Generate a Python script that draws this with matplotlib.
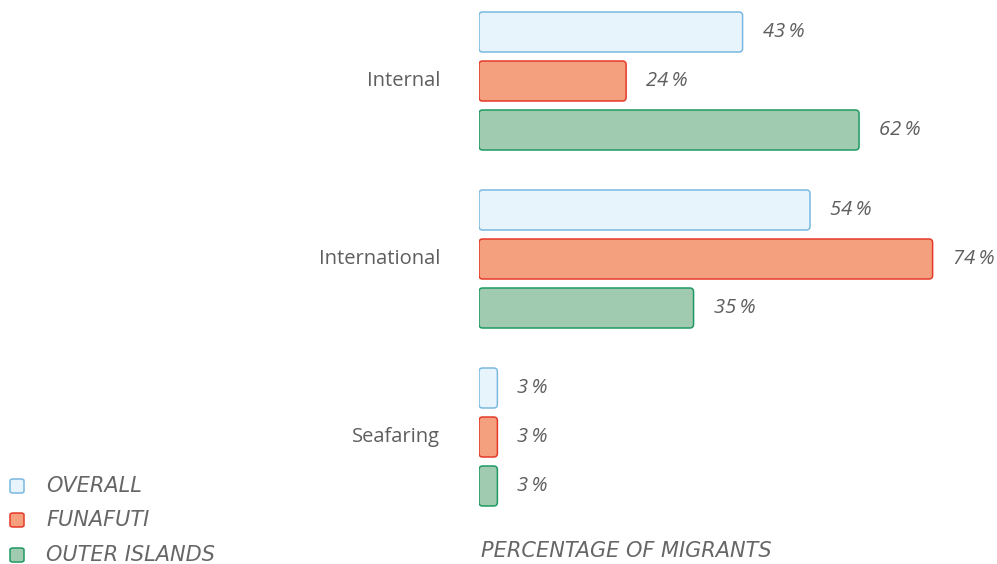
import matplotlib
matplotlib.use("Agg")
import matplotlib.pyplot as plt
from matplotlib.patches import FancyBboxPatch

plt.rcParams['font.family'] = ['Open Sans', 'DejaVu Sans']

categories = ["Internal", "International", "Seafaring"]
series = ["OVERALL", "FUNAFUTI", "OUTER ISLANDS"]
overall = [43, 54, 3]
funafuti = [24, 74, 3]
outer = [62, 35, 3]

faces = ["#e8f4fc", "#f4a07e", "#a0cbb0"]
edges = ["#7ab8e0", "#e53a2a", "#1f9a63"]
TXT = "#5e5e5e"
FS = 14.5
CAPS = dict(fontsize=15, style="italic", color="#666666",
            family=["DejaVu Sans"])

W, H = 997, 564
fig = plt.figure(figsize=(W / 100, H / 100), dpi=100)
x0 = 479
ax = fig.add_axes([x0 / W, 0, 1 - x0 / W, 1])
ppu = 6.13  # pixels per percent
ax.set_xlim(0, (W - x0) / ppu)
ax.set_ylim(2 + (H - 437) / 178, -81 / 178)
ax.axis("off")

off = 49 / 178
hgt = 40 / 178
aspect = (1 / 178) / (1 / ppu)
for j, vals in enumerate([overall, funafuti, outer]):
    for i, v in enumerate(vals):
        yc = i + (j - 1) * off
        p = FancyBboxPatch((0, yc - hgt / 2), v, hgt,
                           boxstyle="round,pad=0,rounding_size=0.6",
                           mutation_aspect=aspect,
                           facecolor=faces[j], edgecolor=edges[j], lw=1.1)
        ax.add_patch(p)
        ax.text(v + 20 / ppu, yc, f"{v}\u2009%", ha="left", va="center",
                fontsize=FS, style="italic", color=TXT)

for i, c in enumerate(categories):
    ax.text(-39 / ppu, i, c, ha="right", va="center", fontsize=FS,
            color=TXT, clip_on=False)

# legend
for j, s in enumerate(series):
    yp = [486, 520, 555][j]
    fig.add_artist(FancyBboxPatch((10 / W, 1 - (yp + 7) / H), 14 / W, 14 / H,
                                  boxstyle="round,pad=0,rounding_size=0.003",
                                  transform=fig.transFigure,
                                  facecolor=faces[j], edgecolor=edges[j], lw=1.1))
    fig.text(46 / W, 1 - yp / H, s, ha="left", va="center", **CAPS)

fig.text(481 / W, 1 - 551 / H, "PERCENTAGE OF MIGRANTS", ha="left",
         va="center", **CAPS)

fig.savefig("out.png", dpi=100)
